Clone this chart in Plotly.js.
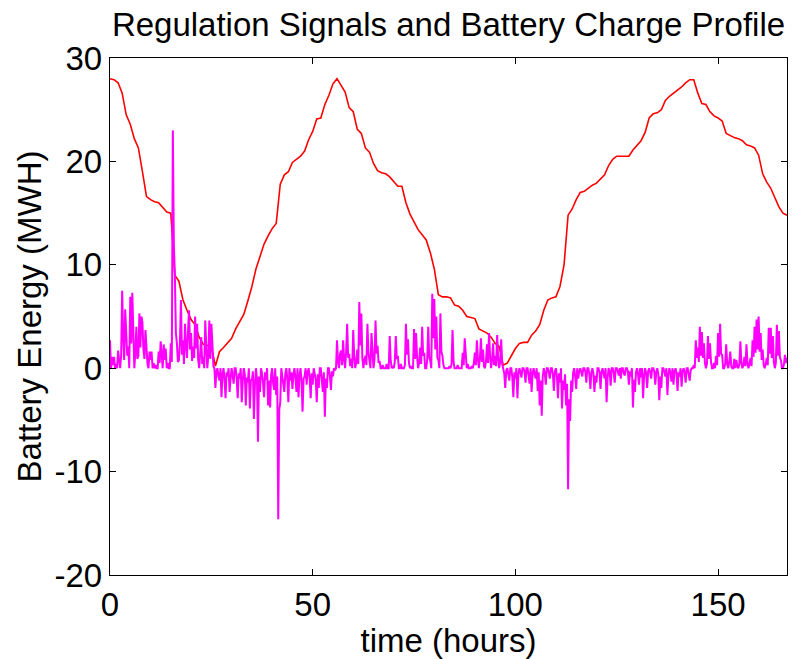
<!DOCTYPE html>
<html>
<head>
<meta charset="utf-8">
<script src="https://cdn.plot.ly/plotly-3.0.1.min.js"></script>
<style>html,body{margin:0;padding:0;background:#fff;}#chart{width:795px;height:659px;}</style>
</head>
<body>
<div id="chart"></div>
<script>
// Battery energy (MWH), hourly from t = 0 to 167 h
var batteryHours = [];
var batteryEnergy = [
  28.0,27.9,27.6,26.6,24.5,23.6,22.2,21.3,19.0,16.6,
  16.3,16.1,16.0,15.6,15.1,15.0,9.0,8.4,6.6,5.6,
  4.7,4.2,3.0,2.3,2.2,2.1,0.2,1.6,2.0,2.4,
  2.9,3.8,4.5,5.2,6.5,7.9,9.6,10.9,12.0,12.8,
  13.5,14.0,17.8,18.7,19.0,19.9,20.2,20.5,21.0,22.1,
  22.9,24.1,24.2,25.5,26.4,27.5,28.0,27.4,26.7,25.2,
  24.8,23.1,22.7,21.3,20.9,19.8,19.1,18.9,18.8,18.5,
  18.0,17.6,17.6,16.0,14.9,14.2,13.4,12.9,12.4,11.2,
  9.6,7.1,6.9,6.9,6.8,6.1,6.0,5.6,5.0,4.9,
  4.8,3.8,3.6,3.4,3.0,2.4,2.1,0.3,0.5,1.2,
  1.9,2.4,2.5,2.5,3.2,3.6,4.2,5.6,6.6,6.8,
  6.9,7.9,10.0,14.8,15.4,16.3,17.0,17.1,17.4,17.7,
  17.9,18.3,18.7,19.6,20.2,20.5,20.5,20.5,20.5,21.1,
  21.5,22.0,22.8,24.2,24.6,24.7,25.0,25.9,26.3,26.6,
  26.9,27.2,27.6,27.9,27.9,26.6,25.6,25.5,24.8,24.4,
  24.2,23.9,22.7,22.5,22.3,22.2,22.0,21.6,21.5,21.3,
  20.6,18.8,18.0,17.4,16.4,15.6,15.0,14.8
];
for (var i = 0; i < batteryEnergy.length; i++) batteryHours.push(i);

// Regulation signal, every quarter hour from t = 0 to 167 h (4 values per hour)
var signalStep = 0.25;
var regulationSignal = [
  2.7,0,1.1,0.3, 1.1,0,0.4,0,
  1.7,0.6,0,1.2, 7.5,3.1,0.8,5.7,
  4.0,1.2,2.1,0, 6.9,2.4,7.3,3.0,
  0,1.5,4.0,0.9, 1.2,5.3,2.0,5.0,
  4.4,1.8,0.9,3.7, 2.1,0.4,0,1.6,
  0.8,1.6,0,0.5, 0,0.3,0,0,
  1.6,0.5,2.6,1.2, 0,2.3,0.8,1.9,
  0,0.5,0,0, 2.4,0.6,23.0,12.0,
  9.0,3.4,2.4,0.6, 0.8,2.5,6.6,1.3,
  2.7,0.4,4.3,2.2, 1.0,3.6,5.6,1.8,
  3.4,0.7,2.1,1.0, 5.0,1.9,4.3,0.8,
  0,1.5,3.0,0.4, 1.1,0,4.6,2.0,
  0,1.2,4.6,0.9, 4.3,2.5,0.2,0,
  -1.9,-0.3,0,-0.8, -1.2,0,-2.8,-0.6,
  0,-1.1,-2.9,-0.4, -0.8,0,-2.3,-1.0,
  0,-0.7,-1.5,0, 0,-1.0,-2.9,-0.5,
  -1.0,0,-3.3,-1.2, 0,-0.6,-3.6,-0.9,
  -1.4,0,-3.9,-1.1, -1.2,-0.3,-4.9,-1.6,
  0,-1.0,-7.1,-0.8, -2.3,0,-0.5,-1.4,
  -2.8,-0.4,-1.1,0, -3.6,-1.2,-3.8,-0.6,
  0,-1.5,-2.1,0, -2.6,-0.8,-14.6,-4.0,
  -3.3,0,-0.9,-1.7, -2.3,-0.5,0,-1.1,
  -3.3,0,-1.2,-0.4, -2.0,-0.6,0,-1.0,
  -2.3,0,-2.8,-0.7, 0,-1.3,-4.2,-1.0,
  -0.8,0,-1.6,-0.4, 0,-0.9,-2.9,-0.5,
  -1.6,0,-0.4,-1.1, -3.3,-0.6,-1.9,0,
  0,-1.2,-2.3,-0.4, -4.7,-1.0,-1.9,0,
  0,-0.8,-2.1,-0.3, -0.8,0,-0.2,0,
  2.7,0.6,0,1.4, 1.7,0.3,2.7,0.9,
  0,1.6,4.3,1.0, 1.4,0.2,0.9,0,
  3.7,1.1,0,0.6, 1.8,0.4,6.4,2.2,
  5.3,1.0,0,0.8, 1.2,0.3,4.3,1.5,
  0.8,0,3.4,1.2, 0,0.9,4.6,1.4,
  2.2,0.5,0.7,0, 0,0.3,0,0,
  0,0.4,0,0, 3.1,0.7,0,0.2,
  0,0.6,3.1,0.9, 1.2,0,0,0.4,
  0,0,0,0.3, 4.3,1.3,2.8,0.5,
  0,0.2,0,0, 3.8,0.9,3.4,1.1,
  0,0.5,2.0,0.4, 4.0,1.2,1.5,0,
  0,0.8,4.0,1.1, 0.7,0,7.2,2.9,
  6.7,1.8,5.0,1.0, 0.8,0,5.3,1.6,
  1.2,0.3,0,0, 0,0,0,0.2,
  0,0.4,3.7,0.6, 0,0,0,0.3,
  0,0,0,0, 1.5,0.3,2.9,0.8,
  0,0.4,0,0, 0,0.2,0,0.5,
  1.5,0.3,2.7,0.9, 0,1.0,2.9,0.6,
  1.8,0.2,0,0.7, 2.3,0.5,3.4,1.2,
  0,0.8,2.4,0.3, 1.2,0.2,3.2,1.0,
  0,0.6,2.8,0.4, 0,-0.5,-1.9,-0.2,
  0,-0.6,-1.2,0, 0,-0.9,-2.8,-0.4,
  -1.0,0,-2.9,-0.6, 0,-0.4,-0.9,0,
  0,-0.3,-1.4,0, 0,-0.7,-1.5,0,
  -2.3,-0.5,0,-0.6, -1.0,0,-2.2,-0.4,
  -3.6,-1.2,-4.6,-0.8, 0,-0.5,-1.6,0,
  0,-0.4,-1.0,0, 0,-0.6,-2.2,-0.3,
  0,-0.8,-2.9,-0.5, -1.4,0,-3.9,-1.2,
  -2.1,-0.6,-3.6,-1.5, -11.7,-3.0,-5.1,-1.2,
  -2.3,-0.4,0,-0.8, -2.0,0,-1.0,-0.3,
  0,-0.4,-0.8,0, 0,-0.3,-1.4,0,
  0,-0.6,-2.0,-0.4, 0,-0.5,-2.3,-0.7,
  -1.4,0,0,-0.4, -2.0,-0.4,0,-0.5,
  -1.0,0,-3.3,-0.9, 0,-0.3,-1.7,0,
  0,-0.4,-1.4,0, 0,-0.3,-0.7,0,
  -1.0,0,0,-0.5, -0.7,0,0,-0.3,
  -1.6,-0.3,-0.8,0, -3.8,-1.1,-2.3,-0.4,
  0,-0.6,-1.6,0, -0.9,0,-2.9,-0.7,
  0,-0.5,-1.9,-0.3, 0,-0.4,-1.0,0,
  0,-0.3,-1.6,-0.4, 0,-0.6,-3.1,-0.8,
  -1.9,0,0,-0.4, -0.8,0,-2.6,-0.6,
  0,-0.5,-1.3,0, -1.6,-0.3,0,-0.5,
  -2.2,-0.4,-0.8,0, -1.8,-0.3,0,-0.4,
  -1.4,0,0,-0.6, -1.2,-0.2,0,0,
  0.3,0,2.7,1.0, 2.0,0.6,4.0,1.2,
  3.5,1.0,2.4,0.5, 0,0.4,3.1,0.9,
  2.4,0.6,0,0, 0.5,0,1.2,0.3,
  3.4,1.1,4.3,1.4, 1.3,0,0,0.4,
  2.3,0.4,0,0.6, 1.6,0.2,0,0,
  0.9,0,0.8,0.2, 0,0.4,2.6,0.5,
  0,0.3,1.1,0.2, 2.3,0.5,0,0.4,
  1.0,0.2,2.7,1.1, 4.0,1.5,4.7,1.8,
  5.0,1.6,3.4,0.8, 1.8,0.3,0,0.4,
  1.0,0.3,3.9,1.4, 3.9,1.0,3.1,0.6,
  0,0.5,4.2,1.2, 3.6,1.0,0.8,0,
  0,0.4,1.3,0.5, 1.0
];
var signalHours = [];
for (var j = 0; j < regulationSignal.length; j++) signalHours.push(j * signalStep);

var xTicks = [0, 50, 100, 150];
var yTicks = [-20, -10, 0, 10, 20, 30];

var font = "Liberation Sans, Arial, Helvetica, sans-serif";
var fs = 33;

var traces = [
  {x: batteryHours, y: batteryEnergy, type: 'scatter', mode: 'lines',
   line: {color: '#ff0000', width: 1.6, shape: 'linear'}, hoverinfo: 'skip'},
  {x: signalHours, y: regulationSignal, type: 'scatter', mode: 'lines',
   line: {color: '#ff00ff', width: 2}, hoverinfo: 'skip'}
];

var axisCommon = {
  showline: true, linecolor: '#000', linewidth: 1.3, mirror: 'ticks',
  ticks: 'inside', ticklen: 6, tickwidth: 1, tickcolor: '#000',
  showgrid: false, zeroline: false,
  tickfont: {family: font, size: fs, color: '#000'}
};

var layout = {
  width: 795, height: 659,
  margin: {l: 110, r: 8, t: 58, b: 84},
  paper_bgcolor: '#fff', plot_bgcolor: '#fff',
  showlegend: false,
  title: {text: 'Regulation Signals and Battery Charge Profile',
          font: {family: font, size: fs, color: '#000'},
          x: 0.5, xref: 'paper', y: 1 - 24/659, yref: 'container', yanchor: 'middle'},
  xaxis: Object.assign({}, axisCommon, {
    range: [0, 167], tickmode: 'array', tickvals: xTicks, ticktext: xTicks.map(String),
    title: {text: 'time (hours)', font: {family: font, size: fs, color: '#000'}, standoff: 0}
  }),
  yaxis: Object.assign({}, axisCommon, {
    range: [-20, 30], tickmode: 'array', tickvals: yTicks, ticktext: yTicks.map(String),
    title: {text: 'Battery Energy (MWH)', font: {family: font, size: fs, color: '#000'}, standoff: 2}
  })
};

Plotly.newPlot('chart', traces, layout, {staticPlot: true, displayModeBar: false});
</script>
</body>
</html>
